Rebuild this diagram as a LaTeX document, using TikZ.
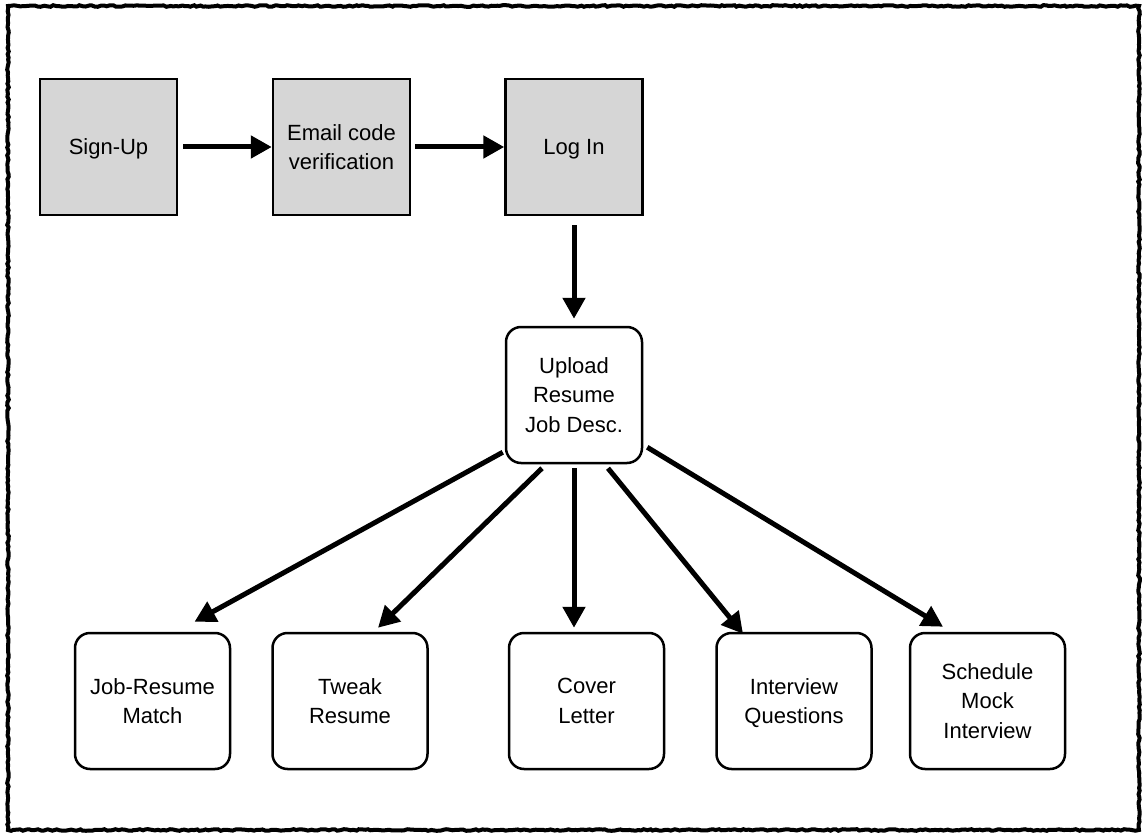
\documentclass[tikz,border=0pt]{standalone}
\usepackage{fontspec}
\setmainfont{Liberation Sans}
\usetikzlibrary{arrows.meta,decorations.pathmorphing}

\begin{document}
\begin{tikzpicture}[x=1pt, y=-1pt,
    every node/.style={align=center, font=\fontsize{22}{29.5}\selectfont, text depth=0pt},
    grey/.style={draw, line width=2.5pt, fill={rgb,255:red,214;green,214;blue,214},
      minimum width=137pt, minimum height=136pt, inner sep=0pt},
    task/.style={draw, line width=2.5pt, rounded corners=15pt,
      minimum width=136pt, minimum height=136pt, inner sep=0pt},
    wide/.style={task, minimum width=155pt},
    flow/.style={line width=5pt, -{Triangle[length=21pt, width=22pt]}}]
    \useasboundingbox (0,0) rectangle (1146,837);
    \draw [line width=4pt, decorate,
      decoration={random steps, segment length=3pt, amplitude=0.8pt}]
      (8,6) rectangle (1139,830);
    \node[grey] (a) at (108.5, 147) {Sign-Up};
    \node[grey] (b) at (341.5, 147) {Email code\\verification};
    \node[grey] (c) at (574, 147) {Log In};
    \node[task] (d) at (574, 395) {Upload\\Resume\\Job Desc.};
    \node[wide] (e) at (152.5, 701) {Job-Resume\\Match};
    \node[wide] (f) at (350, 701) {Tweak\\Resume};
    \node[wide] (g) at (586.5, 701) {Cover\\Letter};
    \node[wide] (h) at (794, 701) {Interview\\Questions};
    \node[wide] (i) at (987.5, 701) {Schedule\\Mock\\Interview};
    \draw [flow, shorten <=5pt] (a) to (b);
    \draw [flow, shorten <=4pt] (b) to (c);
    \draw [flow, shorten <=9pt, shorten >=7pt] (c) to (d);
    \draw [flow] ([xshift=-2pt, yshift=12pt]d.south west) to ([xshift=42pt, yshift=10pt]e.north);
    \draw [flow] ([xshift=-32pt, yshift=-4pt]d.south) to ([xshift=28pt, yshift=4pt]f.north);
    \draw [flow] ([yshift=-4pt]d.south) to ([xshift=-12.5pt, yshift=4pt]g.north);
    \draw [flow] ([xshift=34pt, yshift=-4pt]d.south) to ([xshift=-51pt, yshift=-2pt]h.north);
    \draw [flow] ([xshift=4pt, yshift=17pt]d.south east) to ([xshift=-44.5pt, yshift=5pt]i.north);
  \end{tikzpicture}
\end{document}
